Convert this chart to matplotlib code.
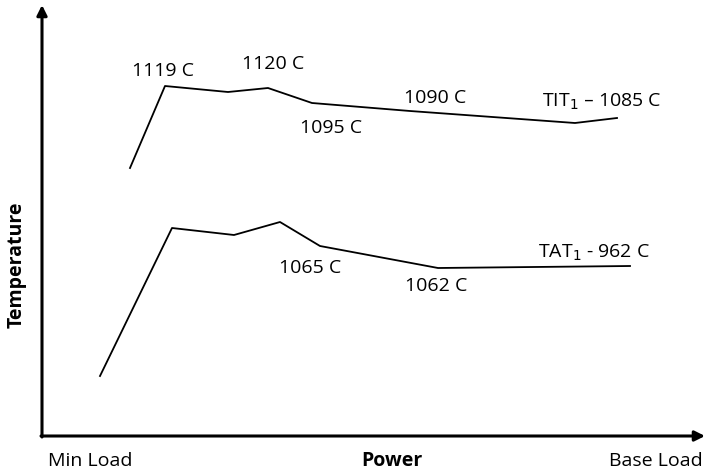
import matplotlib.pyplot as plt

# load position along the power axis (arbitrary units) and temperature trend (arbitrary units)
tit_x = [88, 123, 186, 226, 270, 368, 533, 575]
tit_y = [268, 350, 344, 348, 333, 325, 313, 318]
tat_x = [58, 130, 192, 238, 278, 396, 588]
tat_y = [60, 208, 201, 214, 190, 168, 170]

# point labels: (text, x, y)
tit_labels = [("1119 C", 121, 365), ("1120 C", 231, 372), ("1095 C", 289, 308),
              ("1090 C", 393, 338), ("TIT$_1$ – 1085 C", 560, 334)]
tat_labels = [("1065 C", 268, 168), ("1062 C", 394, 150), ("TAT$_1$ - 962 C", 552, 183)]

plt.rcParams['font.family'] = ['Open Sans', 'DejaVu Sans']
fs = 14

fig = plt.figure(figsize=(7.06, 4.75), dpi=100)
ax = fig.add_axes([42 / 706, 39 / 475, 664 / 706, 431 / 475])
ax.set_xlim(0, 664)
ax.set_ylim(0, 431)
ax.axis('off')

ax.plot(tit_x, tit_y, color='black', linewidth=1.3)
ax.plot(tat_x, tat_y, color='black', linewidth=1.3)

for txt, x, y in tit_labels + tat_labels:
    ax.text(x, y, txt, fontsize=fs, ha='center', va='center')

# arrows for the axes
arrow = dict(arrowstyle='-|>,head_length=0.6,head_width=0.3', color='black', linewidth=2.2,
             shrinkA=0, shrinkB=0)
ax.annotate('', xy=(0, 431), xytext=(0, -1), arrowprops=arrow, annotation_clip=False)
ax.annotate('', xy=(663, 0), xytext=(-1, 0), arrowprops=arrow, annotation_clip=False)

fig.text(90 / 706, 1 - 461 / 475, "Min Load", fontsize=fs, ha='center', va='center')
fig.text(392 / 706, 1 - 461 / 475, "Power", fontsize=fs, fontweight='bold', ha='center', va='center')
fig.text(656 / 706, 1 - 461 / 475, "Base Load", fontsize=fs, ha='center', va='center')
fig.text(17 / 706, 1 - 265 / 475, "Temperature", fontsize=fs, fontweight='bold',
         rotation=90, ha='center', va='center')

fig.savefig('out.png', dpi=100)
